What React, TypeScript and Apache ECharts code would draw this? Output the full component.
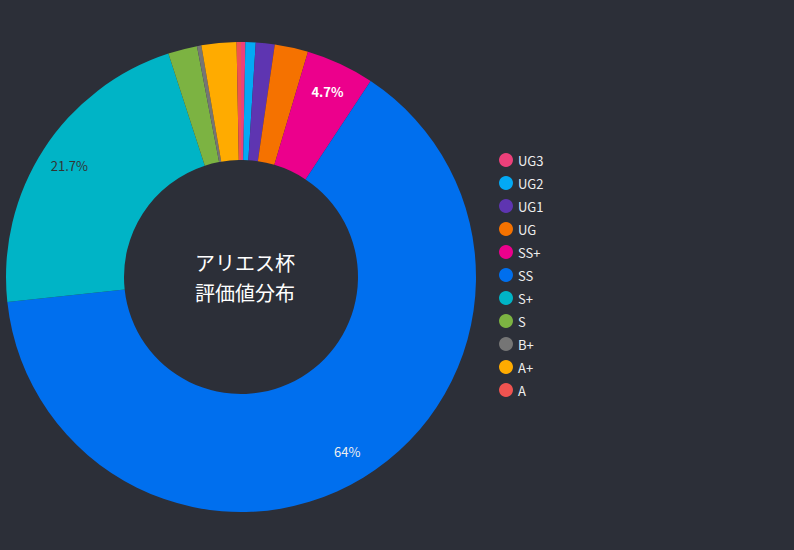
import React, { useEffect, useRef } from "react";
import * as echarts from "echarts";

const categories = ["UG3", "UG2", "UG1", "UG", "SS+", "SS", "S+", "S", "B+", "A+", "A"];
const counts = [3, 7, 13, 23, 47, 640, 217, 20, 3, 24, 3];
const colors = ["#ec407a", "#03a9f4", "#5e35b1", "#f57200", "#ec008c", "#006fee", "#00b4c6", "#7cb342", "#757575", "#ffab00", "#ef5350"];
const labelColors = ["#fff", "#fff", "#fff", "#fff", "#fff", "#eee", "#333", "#fff", "#fff", "#fff", "#fff"];
const labelWeights = ["normal", "normal", "normal", "normal", "bold", "normal", "normal", "normal", "normal", "normal", "normal"];
const centerTitle = "アリエス杯\n評価値分布";

const FONT = "'Noto Sans CJK JP', 'Noto Sans', sans-serif";
const BG = "#2c2f38";

export default function App() {
  const ref = useRef<HTMLDivElement>(null);
  useEffect(() => {
    document.body.style.margin = "0";
    document.body.style.background = BG;
    const chart = echarts.init(ref.current!, null, { renderer: "svg" });
    const mainData = categories.map((name, i) => ({
      name,
      value: counts[i],
      itemStyle: { color: colors[i] },
    }));
    const labelData = categories.map((name, i) => ({
      name,
      value: counts[i],
      label: { color: labelColors[i], fontWeight: labelWeights[i] },
    }));
    chart.setOption({
      animation: false,
      backgroundColor: BG,
      textStyle: { fontFamily: FONT },
      legend: {
        orient: "vertical",
        left: 494,
        top: "middle",
        icon: "circle",
        itemWidth: 14,
        itemHeight: 14,
        itemGap: 9,
        data: categories,
        textStyle: { color: "#eee", fontSize: 13, fontFamily: FONT },
      },
      graphic: [
        {
          type: "text",
          x: 245,
          y: 277,
          style: {
            text: centerTitle,
            fill: "#fff",
            fontSize: 20,
            lineHeight: 30,
            fontFamily: FONT,
            align: "center",
            verticalAlign: "middle",
          },
        },
      ],
      series: [
        {
          type: "pie",
          center: [241, 277],
          radius: [117, 235],
          startAngle: 90,
          clockwise: true,
          label: { show: false },
          labelLine: { show: false },
          data: mainData,
        },
        {
          type: "pie",
          center: [241, 277],
          radius: [168, 235],
          startAngle: 90,
          clockwise: true,
          silent: true,
          legendHoverLink: false,
          minShowLabelAngle: 12,
          itemStyle: { color: "rgba(0,0,0,0)" },
          label: {
            show: true,
            position: "inside",
            formatter: "{d}%",
            fontSize: 13,
            fontFamily: FONT,
            opacity: 1,
          },
          labelLine: { show: false },
          data: labelData,
        },
      ],
    });
    return () => chart.dispose();
  }, []);
  return <div ref={ref} style={{ position: "fixed", left: 0, top: 0, width: 794, height: 550 }} />;
}
